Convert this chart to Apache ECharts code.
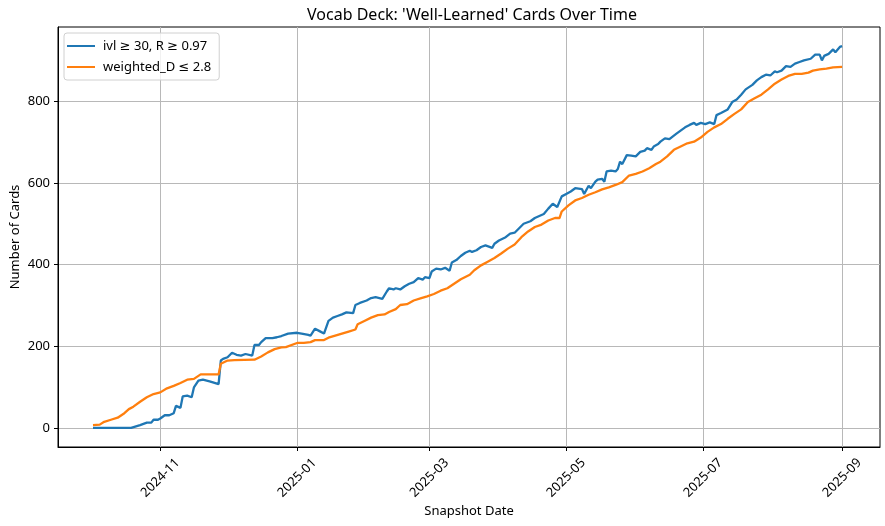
<!DOCTYPE html>
<html><head><meta charset="utf-8">
<script src="https://cdn.jsdelivr.net/npm/echarts@6/dist/echarts.min.js"></script>
<style>html,body{margin:0;padding:0;background:#fff}#c{width:885px;height:526px}</style>
</head><body><div id="c"></div>
<script>
const blueDates = [
'2024-10-02','2024-10-19','2024-10-23','2024-10-26','2024-10-28','2024-10-29','2024-10-31','2024-11-01','2024-11-03','2024-11-05',
'2024-11-07','2024-11-08','2024-11-10','2024-11-11','2024-11-13','2024-11-15','2024-11-16','2024-11-18','2024-11-20','2024-11-23',
'2024-11-27','2024-11-28','2024-11-29','2024-12-01','2024-12-03','2024-12-05','2024-12-07','2024-12-09','2024-12-12','2024-12-13',
'2024-12-15','2024-12-16','2024-12-18','2024-12-21','2024-12-23','2024-12-25','2024-12-28','2025-01-01','2025-01-03','2025-01-06',
'2025-01-07','2025-01-09','2025-01-11','2025-01-13','2025-01-15','2025-01-17','2025-01-19','2025-01-21','2025-01-23','2025-01-26',
'2025-01-27','2025-01-29','2025-02-01','2025-02-03','2025-02-05','2025-02-08','2025-02-10','2025-02-11','2025-02-13','2025-02-14',
'2025-02-16','2025-02-18','2025-02-20','2025-02-22','2025-02-24','2025-02-26','2025-02-27','2025-03-01','2025-03-02','2025-03-04',
'2025-03-06','2025-03-08','2025-03-10','2025-03-11','2025-03-13','2025-03-15','2025-03-17','2025-03-19','2025-03-20','2025-03-22',
'2025-03-24','2025-03-26','2025-03-29','2025-03-30','2025-04-01','2025-04-04','2025-04-06','2025-04-08','2025-04-10','2025-04-12',
'2025-04-15','2025-04-17','2025-04-19','2025-04-21','2025-04-23','2025-04-25','2025-04-27','2025-04-29','2025-05-01','2025-05-03',
'2025-05-05','2025-05-08','2025-05-09','2025-05-11','2025-05-12','2025-05-14','2025-05-15','2025-05-17','2025-05-18','2025-05-19',
'2025-05-21','2025-05-23','2025-05-24','2025-05-25','2025-05-26','2025-05-28','2025-05-30','2025-06-01','2025-06-03','2025-06-05',
'2025-06-06','2025-06-08','2025-06-09','2025-06-11','2025-06-12','2025-06-14','2025-06-16','2025-06-19','2025-06-21','2025-06-23',
'2025-06-25','2025-06-27','2025-06-28','2025-06-30','2025-07-02','2025-07-04','2025-07-06','2025-07-07','2025-07-09','2025-07-12',
'2025-07-14','2025-07-16','2025-07-18','2025-07-20','2025-07-23','2025-07-25','2025-07-27','2025-07-29','2025-07-31','2025-08-02',
'2025-08-03','2025-08-05','2025-08-07','2025-08-09','2025-08-11','2025-08-13','2025-08-15','2025-08-18','2025-08-20','2025-08-22',
'2025-08-23','2025-08-24','2025-08-26','2025-08-28','2025-08-29','2025-08-31','2025-09-01'
];
const blueValues = [
0,0,7,13,13,20,20,23,31,31,
36,54,49,77,79,75,99,116,118,114,
107,165,169,173,184,179,177,181,177,203,
203,210,220,220,222,225,231,233,231,228,
226,243,237,231,262,270,274,278,283,281,
301,306,312,318,320,316,334,342,339,342,
339,347,353,357,367,363,369,367,383,390,
388,392,385,405,411,421,429,434,431,435,
443,447,441,451,459,467,476,478,489,500,
506,514,519,524,537,549,541,567,573,579,
587,585,573,593,587,603,608,610,603,628,
630,628,634,652,646,668,667,665,676,679,
685,681,689,695,701,709,707,720,728,736,
742,747,742,747,744,748,744,766,771,780,
798,804,816,829,840,851,859,865,863,873,
871,875,886,884,892,896,900,904,914,914,
900,911,916,927,920,933,935
];
const orangeDates = [
'2024-10-02','2024-10-05','2024-10-07','2024-10-10','2024-10-13','2024-10-16','2024-10-18','2024-10-20','2024-10-23','2024-10-26',
'2024-10-29','2024-11-01','2024-11-04','2024-11-07','2024-11-10','2024-11-13','2024-11-16','2024-11-19','2024-11-27','2024-11-28',
'2024-12-01','2024-12-04','2024-12-13','2024-12-16','2024-12-19','2024-12-22','2024-12-25','2024-12-27','2025-01-01','2025-01-04',
'2025-01-07','2025-01-09','2025-01-13','2025-01-15','2025-01-18','2025-01-21','2025-01-24','2025-01-27','2025-01-28','2025-01-31',
'2025-02-03','2025-02-06','2025-02-09','2025-02-11','2025-02-14','2025-02-16','2025-02-19','2025-02-22','2025-02-25','2025-02-28',
'2025-03-03','2025-03-06','2025-03-09','2025-03-12','2025-03-15','2025-03-19','2025-03-21','2025-03-24','2025-03-27','2025-03-30',
'2025-04-02','2025-04-05','2025-04-08','2025-04-11','2025-04-14','2025-04-17','2025-04-20','2025-04-23','2025-04-26','2025-04-28',
'2025-04-29','2025-05-02','2025-05-05','2025-05-08','2025-05-11','2025-05-14','2025-05-17','2025-05-20','2025-05-23','2025-05-26',
'2025-05-29','2025-06-01','2025-06-04','2025-06-07','2025-06-10','2025-06-12','2025-06-15','2025-06-18','2025-06-21','2025-06-24',
'2025-06-27','2025-06-30','2025-07-03','2025-07-06','2025-07-09','2025-07-12','2025-07-15','2025-07-18','2025-07-21','2025-07-24',
'2025-07-27','2025-07-30','2025-08-02','2025-08-05','2025-08-08','2025-08-11','2025-08-14','2025-08-17','2025-08-19','2025-08-22',
'2025-08-25','2025-08-28','2025-09-01'
];
const orangeValues = [
7,8,15,20,25,36,46,52,64,75,
83,87,97,103,110,118,120,131,131,157,
165,166,167,175,185,193,197,198,208,208,
210,215,215,221,226,231,236,241,254,262,
270,276,278,284,291,301,303,312,317,322,
328,336,342,353,364,375,386,398,407,416,
427,439,449,467,481,492,498,508,514,514,
530,545,557,563,571,577,584,589,595,602,
618,622,628,636,646,652,665,681,689,697,
701,711,725,736,744,757,769,780,798,807,
816,829,843,853,862,867,867,870,875,878,
880,883,884
];
const seriesNames = ['ivl \u2265 30, R \u2265 0.97', 'weighted_D \u2264 2.8'];
const xTickDates = ['2024-11-01','2025-01-01','2025-03-01','2025-05-01','2025-07-01','2025-09-01'];
const yTicks = [0, 200, 400, 600, 800];

const FONT = "'Noto Sans', 'DejaVu Sans', sans-serif";
const DAY = 86400000;
const parse = s => +echarts.number.parseDate(s);
const xMin = parse(xTickDates[0]) - 45.6 * DAY;
const xMax = parse(xTickDates[xTickDates.length - 1]) + 16.9 * DAY;
const yMaxData = Math.max(...blueValues, ...orangeValues);
const yPad = yMaxData * 0.05;

const chart = echarts.init(document.getElementById('c'), null, {renderer: 'canvas'});
chart.setOption({
  animation: false,
  backgroundColor: '#fff',
  title: {
    text: "Vocab Deck: 'Well-Learned' Cards Over Time",
    left: 467, top: 2, textAlign: 'center',
    textStyle: {fontFamily: FONT, fontSize: 16, fontWeight: 'normal', color: '#000'}
  },
  legend: {
    orient: 'vertical', left: 64, top: 33,
    icon: 'rect', itemWidth: 28, itemHeight: 2,
    padding: [5, 8, 5, 3], itemGap: 5,
    backgroundColor: 'rgba(255,255,255,0.8)', borderColor: '#d0d0d0', borderWidth: 1, borderRadius: 3,
    textStyle: {fontFamily: FONT, fontSize: 13, color: '#000', padding: [0, 0, 0, 3], lineHeight: 16},
    data: seriesNames
  },
  grid: {left: 58, right: 5, top: 27, bottom: 79, show: true, borderColor: '#000', borderWidth: 1,
    containLabel: false, outerBoundsMode: 'none'},
  xAxis: {
    type: 'time', min: xMin, max: xMax,
    name: 'Snapshot Date', nameLocation: 'middle', nameGap: 58, nameMoveOverlap: false,
    nameTextStyle: {fontFamily: FONT, fontSize: 13, color: '#000'},
    axisLine: {show: true, onZero: false, lineStyle: {color: '#000', width: 1}},
    axisTick: {show: true, length: 4, lineStyle: {color: '#000'}, customValues: xTickDates},
    axisLabel: {customValues: xTickDates, formatter: '{yyyy}-{MM}', rotate: 45, align: 'center', verticalAlign: 'middle',
      margin: 31, fontFamily: FONT, fontSize: 13, color: '#000', hideOverlap: false},
    splitLine: {show: true, lineStyle: {color: '#b8b8b8', width: 1}}
  },
  yAxis: {
    type: 'value', min: -yPad, max: yMaxData + yPad,
    name: 'Number of Cards', nameLocation: 'middle', nameGap: 36, nameMoveOverlap: false,
    nameTextStyle: {fontFamily: FONT, fontSize: 13, color: '#000'},
    axisLine: {show: true, onZero: false, lineStyle: {color: '#000', width: 1}},
    axisTick: {show: true, length: 4, lineStyle: {color: '#000'}, customValues: yTicks},
    axisLabel: {customValues: yTicks, margin: 8, fontFamily: FONT, fontSize: 13, color: '#000'},
    splitLine: {show: true, lineStyle: {color: '#b8b8b8', width: 1}}
  },
  series: [
    {name: seriesNames[0], type: 'line', symbol: 'none', showSymbol: false,
     lineStyle: {color: '#1f77b4', width: 2.3}, itemStyle: {color: '#1f77b4'},
     data: blueDates.map((d, i) => [d, blueValues[i]])},
    {name: seriesNames[1], type: 'line', symbol: 'none', showSymbol: false,
     lineStyle: {color: '#ff7f0e', width: 2.3}, itemStyle: {color: '#ff7f0e'},
     data: orangeDates.map((d, i) => [d, orangeValues[i]])}
  ]
});
</script></body></html>
